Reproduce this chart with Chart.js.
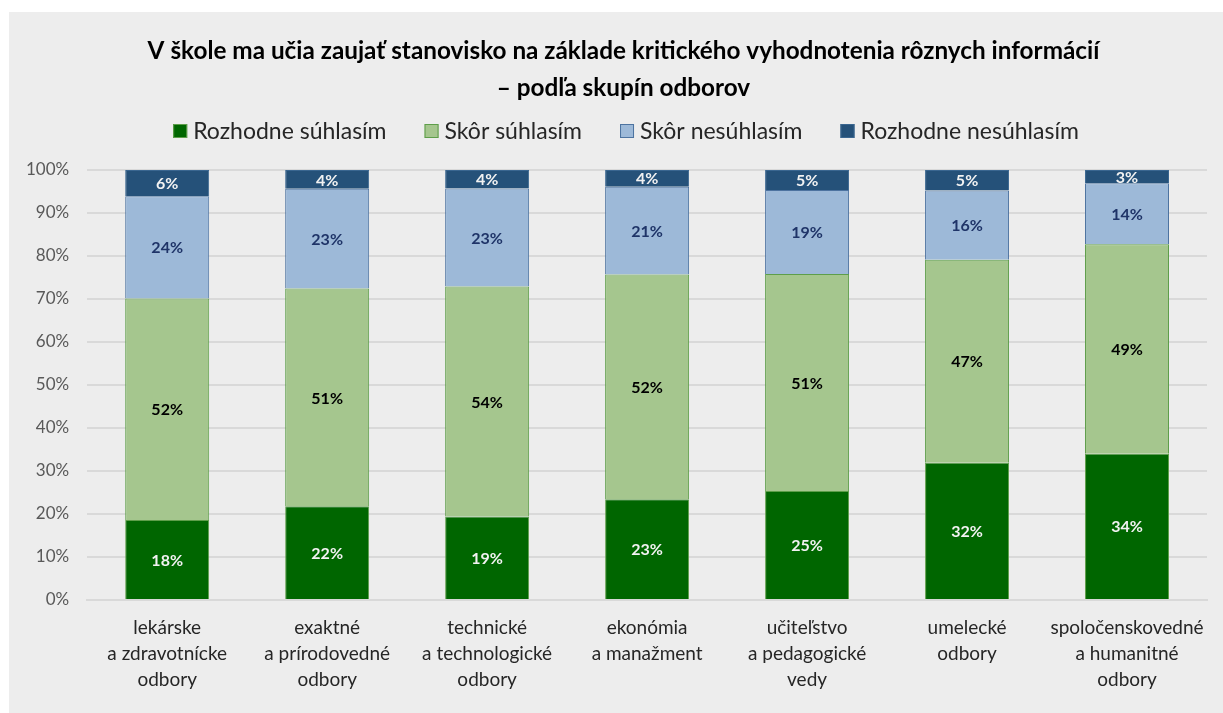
<!DOCTYPE html>
<html>
<head>
<meta charset="utf-8">
<script src="https://cdn.jsdelivr.net/npm/chart.js@4.4.1/dist/chart.umd.min.js"></script>
<style>
  html, body { margin: 0; padding: 0; background: #fff; }
  #wrap { position: absolute; left: 9px; top: 12px; width: 1214px; height: 701px; background: #EDEDED; }
</style>
</head>
<body>
<div id="wrap"><canvas id="chart"></canvas></div>
<script>
// categories (multi-line labels)
const categories = [
  ['lekárske', 'a zdravotnícke', 'odbory'],
  ['exaktné', 'a prírodovedné', 'odbory'],
  ['technické', 'a technologické', 'odbory'],
  ['ekonómia', 'a manažment'],
  ['učiteľstvo', 'a pedagogické', 'vedy'],
  ['umelecké', 'odbory'],
  ['spoločenskovedné', 'a humanitné', 'odbory']
];

// bar heights (%)
const rozhodneSuhlasim   = [18.6, 21.8, 19.4, 23.4, 25.3, 31.9, 34.0];
const skorSuhlasim       = [51.5, 50.6, 53.5, 52.3, 50.5, 47.2, 48.7];
const skorNesuhlasim     = [23.8, 23.2, 22.8, 20.4, 19.5, 16.1, 14.2];
const rozhodneNesuhlasim = [6.1, 4.4, 4.3, 3.9, 4.7, 4.8, 3.1];

// printed labels
const lblRozhodneSuhlasim   = [18, 22, 19, 23, 25, 32, 34];
const lblSkorSuhlasim       = [52, 51, 54, 52, 51, 47, 49];
const lblSkorNesuhlasim     = [24, 23, 23, 21, 19, 16, 14];
const lblRozhodneNesuhlasim = [6, 4, 4, 4, 5, 5, 3];

const yTicks = [0, 10, 20, 30, 40, 50, 60, 70, 80, 90, 100];

const FONT = 'Lato, "Noto Sans", sans-serif';

// draw value labels in the middle of each segment
const barLabels = {
  id: 'barLabels',
  afterDatasetsDraw(chart) {
    const ctx = chart.ctx;
    ctx.save();
    ctx.textAlign = 'center';
    ctx.textBaseline = 'middle';
    ctx.font = 'bold 16px ' + FONT;
    chart.data.datasets.forEach((ds, i) => {
      const meta = chart.getDatasetMeta(i);
      ctx.fillStyle = ds.labelColor;
      meta.data.forEach((bar, j) => {
        ctx.fillText(ds.labels[j] + '%', bar.x, (bar.y + bar.base) / 2 + 1);
      });
    });
    ctx.restore();
  }
};

// legend row drawn by hand so the item spacing and the row position are independent
const legendRow = {
  id: 'legendRow',
  afterDraw(chart) {
    const ctx = chart.ctx;
    const box = 14, gap = 6, spacing = 38, cy = 119, cx = 617;
    ctx.save();
    ctx.font = '23px ' + FONT;
    ctx.textBaseline = 'middle';
    const items = chart.data.datasets.map(ds => ({ ds, w: ctx.measureText(ds.label).width }));
    let total = items.reduce((s, it) => s + box + gap + it.w, 0) + spacing * (items.length - 1);
    let x = cx - total / 2;
    items.forEach(it => {
      ctx.fillStyle = it.ds.backgroundColor;
      ctx.strokeStyle = it.ds.borderColor;
      ctx.lineWidth = 1;
      ctx.fillRect(x, cy - box / 2, box, box);
      ctx.strokeRect(x + 0.5, cy - box / 2 + 0.5, box - 1, box - 1);
      ctx.fillStyle = '#262626';
      ctx.fillText(it.ds.label, x + box + gap, cy + 1);
      x += box + gap + it.w + spacing;
    });
    ctx.restore();
  }
};

// nudge the title a little to the right, as in the original
const titleShift = {
  id: 'titleShift',
  afterLayout(chart) {
    const t = chart.titleBlock;
    if (t) { t.left += 16; t.right += 16; }
  }
};

new Chart(document.getElementById('chart'), {
  type: 'bar',
  data: {
    labels: categories,
    datasets: [
      {
        label: 'Rozhodne súhlasím',
        data: rozhodneSuhlasim,
        labels: lblRozhodneSuhlasim,
        backgroundColor: '#006600',
        borderColor: '#5E9E4A',
        borderWidth: 1,
        labelColor: '#F2F2F2'
      },
      {
        label: 'Skôr súhlasím',
        data: skorSuhlasim,
        labels: lblSkorSuhlasim,
        backgroundColor: '#A5C68E',
        borderColor: '#5E9E4A',
        borderWidth: 1,
        labelColor: '#000000'
      },
      {
        label: 'Skôr nesúhlasím',
        data: skorNesuhlasim,
        labels: lblSkorNesuhlasim,
        backgroundColor: '#9DB9D8',
        borderColor: '#4D73A0',
        borderWidth: 1,
        labelColor: '#1F3468'
      },
      {
        label: 'Rozhodne nesúhlasím',
        data: rozhodneNesuhlasim,
        labels: lblRozhodneNesuhlasim,
        backgroundColor: '#255179',
        borderColor: '#3A6690',
        borderWidth: 1,
        labelColor: '#F2F2F2'
      }
    ]
  },
  options: {
    responsive: true,
    maintainAspectRatio: false,
    animation: false,
    layout: { padding: { left: -1, right: 16, bottom: 5 } },
    datasets: {
      bar: { barPercentage: 0.75, categoryPercentage: 0.7 }
    },
    scales: {
      x: {
        stacked: true,
        grid: { display: false, drawTicks: false },
        border: { display: true, color: '#D9D9D9', width: 2 },
        ticks: {
          color: '#262626',
          padding: 15,
          maxRotation: 0,
          autoSkip: false,
          font: { family: FONT, size: 19, lineHeight: 1.37 }
        }
      },
      y: {
        stacked: true,
        min: 0,
        max: 100,
        afterBuildTicks: axis => { axis.ticks = yTicks.map(v => ({ value: v })); },
        grid: { color: '#D9D9D9', lineWidth: 2, drawTicks: false },
        border: { display: false },
        ticks: {
          color: '#595959',
          padding: 18,
          font: { family: FONT, size: 17 },
          callback: v => v + '%'
        }
      }
    },
    plugins: {
      title: {
        display: true,
        text: ['V škole ma učia zaujať stanovisko na základe kritického vyhodnotenia rôznych informácií', '– podľa skupín odborov'],
        color: '#000000',
        font: { family: FONT, size: 24.3, weight: 'bold', lineHeight: 1.5 },
        padding: { top: 21, bottom: 64 }
      },
      legend: { display: false },
      tooltip: { enabled: false }
    }
  },
  plugins: [barLabels, legendRow, titleShift]
});
</script>
</body>
</html>
